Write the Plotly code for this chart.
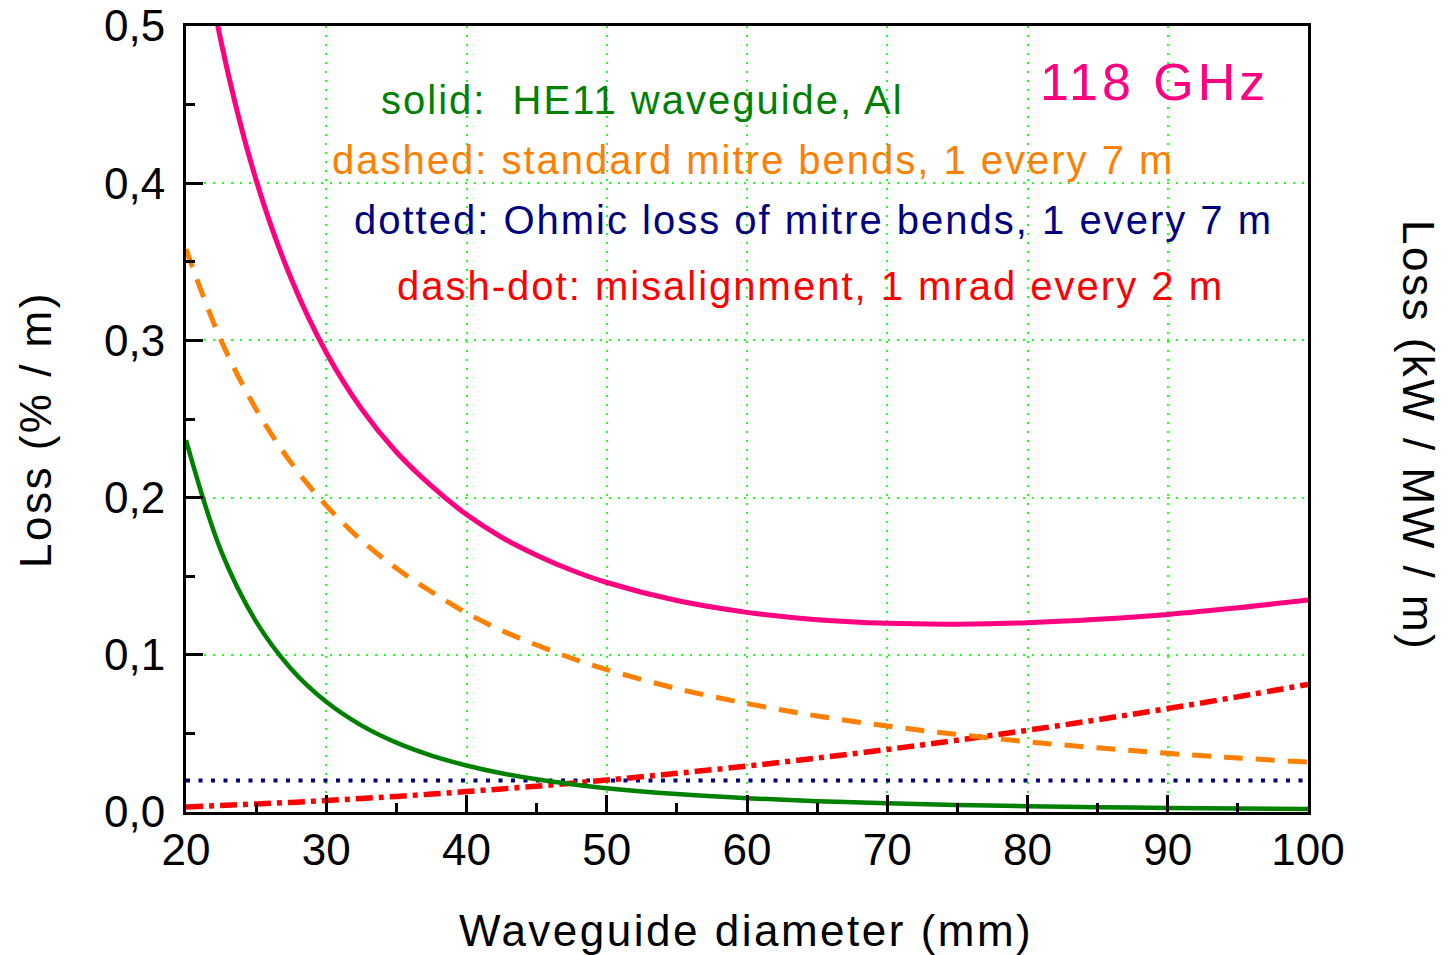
import plotly.graph_objects as go

# ---------------- data ----------------
diam = [20, 22.5, 25, 27.5, 30, 32.5, 35, 37.5, 40, 42.5, 45, 47.5,
        50, 55, 60, 65, 70, 75, 80, 85, 90, 95, 100]

he11_al = [0.2365, 0.1661, 0.1211, 0.0910, 0.0701, 0.0551, 0.0441, 0.0359, 0.0296,
           0.0246, 0.0208, 0.0177, 0.0151, 0.0114, 0.0088, 0.0069, 0.0055, 0.0045,
           0.0037, 0.0031, 0.0026, 0.0022, 0.0019]

mitre_bends = [0.358, 0.300, 0.2562, 0.2221, 0.1949, 0.1729, 0.1550, 0.1401, 0.1266,
               0.1155, 0.1062, 0.0978, 0.0906, 0.0785, 0.0690, 0.0611, 0.0547, 0.0493,
               0.0447, 0.0408, 0.0373, 0.0344, 0.0317]

ohmic_mitre = [0.02, 0.02, 0.02, 0.02, 0.02, 0.02, 0.02, 0.02, 0.02, 0.02, 0.02, 0.02,
               0.02, 0.02, 0.02, 0.02, 0.02, 0.02, 0.02, 0.02, 0.02, 0.02, 0.02]

misalignment = [0.0032, 0.0041, 0.0051, 0.0061, 0.0073, 0.0086, 0.0099, 0.0114, 0.0130,
                0.0147, 0.0164, 0.0183, 0.0203, 0.0246, 0.0292, 0.0343, 0.0398, 0.0457,
                0.0520, 0.0587, 0.0658, 0.0733, 0.0812]

total_loss = [0.618, 0.490, 0.402, 0.3392, 0.2923, 0.2566, 0.2290, 0.2074, 0.1892,
              0.1748, 0.1634, 0.1538, 0.1460, 0.1345, 0.1270, 0.1223, 0.1200, 0.1195,
              0.1204, 0.1226, 0.1257, 0.1299, 0.1348]

x_ticks = [20, 30, 40, 50, 60, 70, 80, 90, 100]
x_tick_labels = ["20", "30", "40", "50", "60", "70", "80", "90", "100"]
y_ticks = [0.0, 0.1, 0.2, 0.3, 0.4, 0.5]
y_tick_labels = ["0,0", "0,1", "0,2", "0,3", "0,4", "0,5"]
y2_ticks = [0, 1, 2, 3, 4, 5]
y2_tick_labels = ["0", "1", "2", "3", "4", "5"]

# ---------------- figure ----------------
W, H = 1449, 955
ML, MR, MT, MB = 186, 141, 26, 143
PW, PH = W - ML - MR, H - MT - MB
FONT = "Liberation Sans, Arial, Helvetica, sans-serif"
GRID = "#22ff22"


def px(x):
    return (x - ML) / PW


def py(y):
    return (H - MB - y) / PH


fig = go.Figure()

fig.add_trace(go.Scatter(x=diam, y=ohmic_mitre, mode="lines",
                         line=dict(color="#000080", width=4, dash="4px,8.5px")))
fig.add_trace(go.Scatter(x=diam, y=misalignment, mode="lines", line_shape="spline",
                         line=dict(color="#ff0000", width=5.5, dash="17px,6px,5px,6px")))
fig.add_trace(go.Scatter(x=diam, y=mitre_bends, mode="lines", line_shape="spline",
                         line=dict(color="#ff8000", width=5, dash="19px,13px")))
fig.add_trace(go.Scatter(x=diam, y=he11_al, mode="lines", line_shape="spline",
                         line=dict(color="#008000", width=4.5)))
fig.add_trace(go.Scatter(x=diam, y=total_loss, mode="lines", line_shape="spline",
                         line=dict(color="#ff0080", width=5)))

axis_common = dict(showline=True, linecolor="black", linewidth=3,
                   ticks="inside", ticklen=17, tickwidth=3, tickcolor="black",
                   tickfont=dict(family=FONT, size=44, color="black"),
                   zeroline=False, automargin=False)

fig.update_layout(
    width=W, height=H,
    margin=dict(l=ML, r=MR, t=MT, b=MB, pad=0, autoexpand=False),
    paper_bgcolor="white", plot_bgcolor="white",
    showlegend=False,
    xaxis=dict(range=[20, 100], tickvals=x_ticks, ticktext=x_tick_labels,
               mirror=True, showgrid=True, gridcolor=GRID, gridwidth=1.5, griddash="2px,7px",
               minor=dict(ticks="inside", ticklen=9, tickwidth=3, tickcolor="black",
                          dtick=5, tick0=20, showgrid=False),
               ticklabelstandoff=-3,
               **axis_common),
    yaxis=dict(range=[0, 0.5], tickvals=y_ticks, ticktext=y_tick_labels,
               mirror=True, showgrid=True, gridcolor=GRID, gridwidth=1.5, griddash="2px,7px",
               minor=dict(ticks="inside", ticklen=9, tickwidth=3, tickcolor="black",
                          dtick=0.05, tick0=0, showgrid=False),
               ticklabelstandoff=9,
               **axis_common),
    yaxis2=dict(range=[0, 5], tickvals=y2_ticks, ticktext=y2_tick_labels,
                overlaying="y", side="right", showgrid=False,
                minor=dict(ticks="inside", ticklen=9, tickwidth=3, tickcolor="black",
                           dtick=0.5, tick0=0, showgrid=False),
                ticklabelstandoff=7,
                **axis_common),
)


def sp(text, s):
    return f"<span style='letter-spacing:{s}px'>{text}</span>"


annots = [
    ("solid:  HE11 waveguide, Al", 642, 100, "#008000", 40, 2, 0),
    ("dashed: standard mitre bends, 1 every 7 m", 753, 160, "#ff8000", 40, 2, 0),
    ("dotted: Ohmic loss of mitre bends, 1 every 7 m", 813, 220, "#000080", 40, 2, 0),
    ("dash-dot: misalignment, 1 mrad every 2 m", 810, 286, "#ff0000", 40, 2, 0),
    ("118 GHz", 1154, 82, "#ff0080", 52, 4, 0),
    ("Waveguide diameter (mm)", 746, 930, "black", 44, 2.5, 0),
    ("Loss (% / m)", 35, 430, "black", 44, 2.5, -90),
    ("Loss (kW / MW / m)", 1418, 435, "black", 44, 2.5, 90),
]
for text, x, y, color, size, s, ang in annots:
    fig.add_annotation(x=px(x), y=py(y), xref="paper", yref="paper",
                       text=sp(text.replace("  ", "&nbsp; "), s), showarrow=False,
                       xanchor="center", yanchor="middle", textangle=ang,
                       font=dict(family=FONT, size=size, color=color))

fig.write_html("out.html")
